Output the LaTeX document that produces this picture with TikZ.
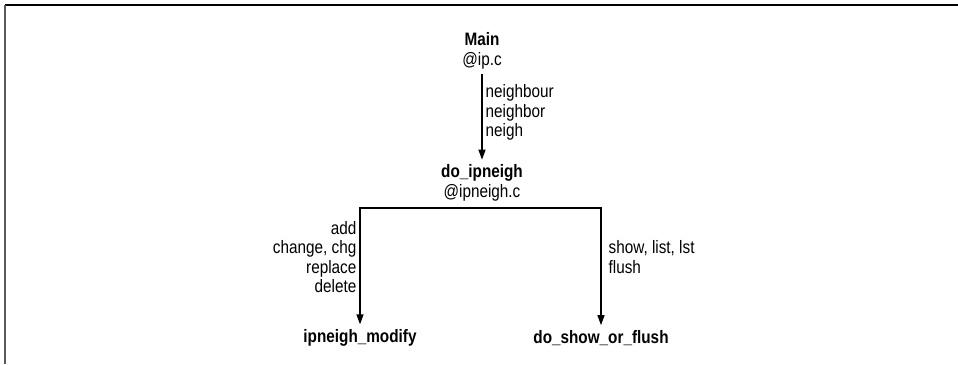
\documentclass[tikz,border=0pt]{standalone}
\usepackage{fontspec}
\setmainfont[FakeStretch=0.85]{Liberation Sans}
\usetikzlibrary{arrows.meta, positioning}

\begin{document}
\begin{tikzpicture}[
    x=1pt, y=-1pt,
    every node/.style={font=\fontsize{18}{19.5}\selectfont},
    func/.style={align=center, inner sep=5pt},
    arrow/.style={-{Triangle[width=7pt,length=10pt]}, line width=1.3pt},
    cmdlabel/.style={inner sep=3pt},
]
\useasboundingbox (0,0) rectangle (958,364);

% frame
\draw[line width=1.5pt] (5,5) -- (958,5);
\draw[line width=1.5pt, gray!70!black] (5,5) -- (5,364);

% functions
\node[func] (main) at (482,51) {\textbf{Main}\\@ip.c};
\node[func] (doip) at (482,183) {\textbf{do\_ipneigh}\\@ipneigh.c};
\node[func] (modify) at (360,338) {\textbf{ipneigh\_modify}};
\node[func] (showflush) at (601,338) {\textbf{do\_show\_or\_flush}};

\coordinate (fork) at (482,208);

% calls
\draw[arrow] (main) -- node[cmdlabel, right, align=left, pos=0.45] {neighbour\\neighbor\\neigh} (doip);
\draw[arrow] (fork) -| node[cmdlabel, left, align=right, pos=0.71] {add\\change, chg\\replace\\delete} (modify);
\draw[arrow] (fork) -| node[cmdlabel, right, align=left, pos=0.71, xshift=4pt] {show, list, lst\\flush} (showflush);

\end{tikzpicture}
\end{document}
